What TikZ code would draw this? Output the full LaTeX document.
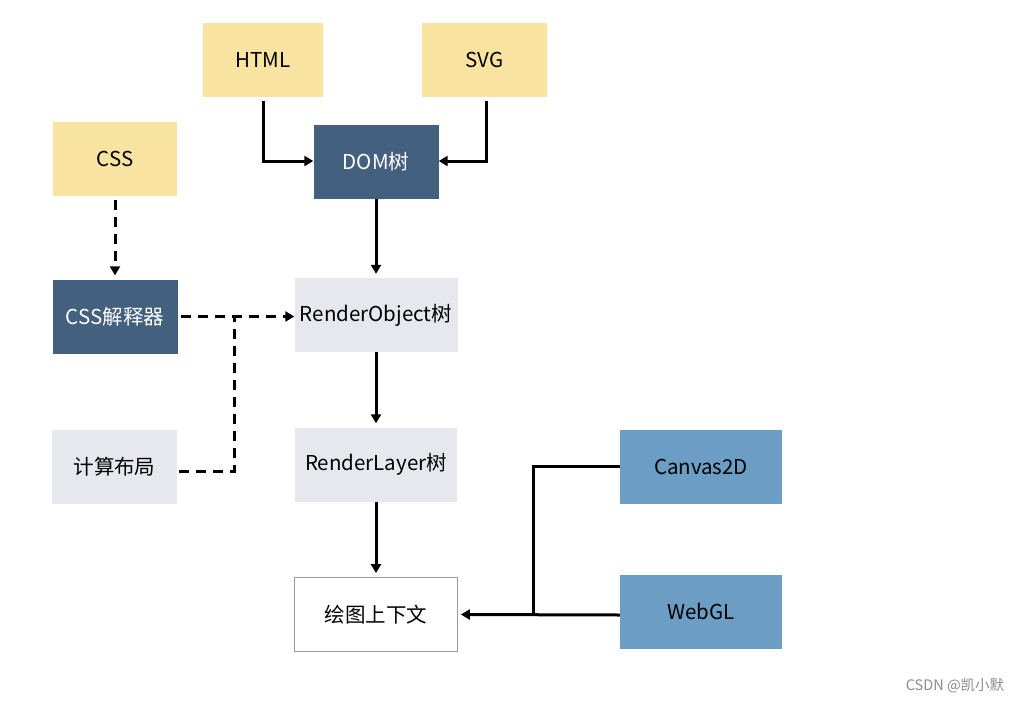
\documentclass[tikz,border=0pt]{standalone}
\usepackage{fontspec}
\setmainfont{Noto Sans CJK SC}
\usetikzlibrary{arrows.meta,positioning}
\definecolor{sandy}{HTML}{F9E3A0}
\definecolor{navy}{HTML}{44607F}
\definecolor{paleg}{HTML}{E6E8EE}
\definecolor{skyb}{HTML}{6C9DC4}
\definecolor{edgegrey}{HTML}{9A9A9A}
\tikzset{
  boxy/.style    = {inner sep=0pt, minimum width=125pt, minimum height=74pt,
                    align=center, font=\fontsize{20.5}{24}\selectfont},
  yellowbox/.style = {boxy, fill=sandy, text=black},
  navybox/.style = {boxy, fill=navy, text=white},
  greybox/.style = {boxy, fill=paleg, text=black, minimum width=163pt},
  bluebox/.style = {boxy, fill=skyb, text=black, minimum width=162pt},
  whitebox/.style= {boxy, draw=edgegrey, line width=0.8pt, fill=white, minimum width=163pt},
  flow/.style    = {-{Triangle[length=9pt,width=10pt]}, line width=3pt},
  flowdash/.style= {flow, dash pattern=on 10pt off 7pt},
  plainline/.style = {line width=3pt},
}

\begin{document}
\begin{tikzpicture}[x=1pt,y=-1pt]
    \useasboundingbox[fill=white] (0,0) rectangle (1021,702);
    % sources
    \node[yellowbox,minimum width=120pt] (html) at (263,60) {HTML};
    \node[yellowbox] (svg) at (484.5,60) {SVG};
    \node[yellowbox,minimum width=124pt] (css) at (115,158.5) {CSS};
    \node[navybox] (dom) at (376,162) {DOM树};
    \node[navybox] (cssparse) at (115,316.5) {CSS解释器};
    \node[greybox] (robj) at (376,315) {RenderObject树};
    \node[greybox,minimum width=125pt] (layout) at (114.5,466.5) {计算布局};
    \node[greybox,minimum width=162pt] (rlayer) at (376,464.5) {RenderLayer树};
    \node[whitebox] (ctx) at (376,614.5) {绘图上下文};
    \node[bluebox] (canvas) at (701,466.5) {Canvas2D};
    \node[bluebox] (webgl) at (701,611.5) {WebGL};
    \coordinate (jdash) at (234,316.5);
    \coordinate (jsolid) at (533,615);
    % connectors
    \draw[flow] ([yshift=-4pt]html.south) |- ([yshift=1pt]dom.west);
    \draw[flow] ([xshift=1.5pt,yshift=-4pt]svg.south) |- ([yshift=1pt]dom.east);
    \draw[flow] (dom.south) -- ([yshift=4pt]robj.north);
    \draw[flow] (robj.south) -- ([yshift=4pt]rlayer.north);
    \draw[flow] (rlayer.south) -- ([yshift=4pt]ctx.north);
    \draw[flowdash] ([yshift=-4pt]css.south) -- ([yshift=4pt]cssparse.north);
    \draw[flowdash] ([xshift=3pt]cssparse.east) -- (robj.west |- cssparse.east);
    \draw[flowdash,-] ([xshift=2pt,yshift=-4.5pt]layout.east) -| (jdash);
    \draw[plainline] (canvas.west) -| (jsolid);
    \draw[flow] ([yshift=-3.5pt]webgl.west) -- ([xshift=3pt]ctx.east);
    % watermark
    \node[text=black!45,font=\fontsize{14.5}{16}\selectfont] (mark) at (955,686) {CSDN @凯小默};
\end{tikzpicture}
\end{document}
